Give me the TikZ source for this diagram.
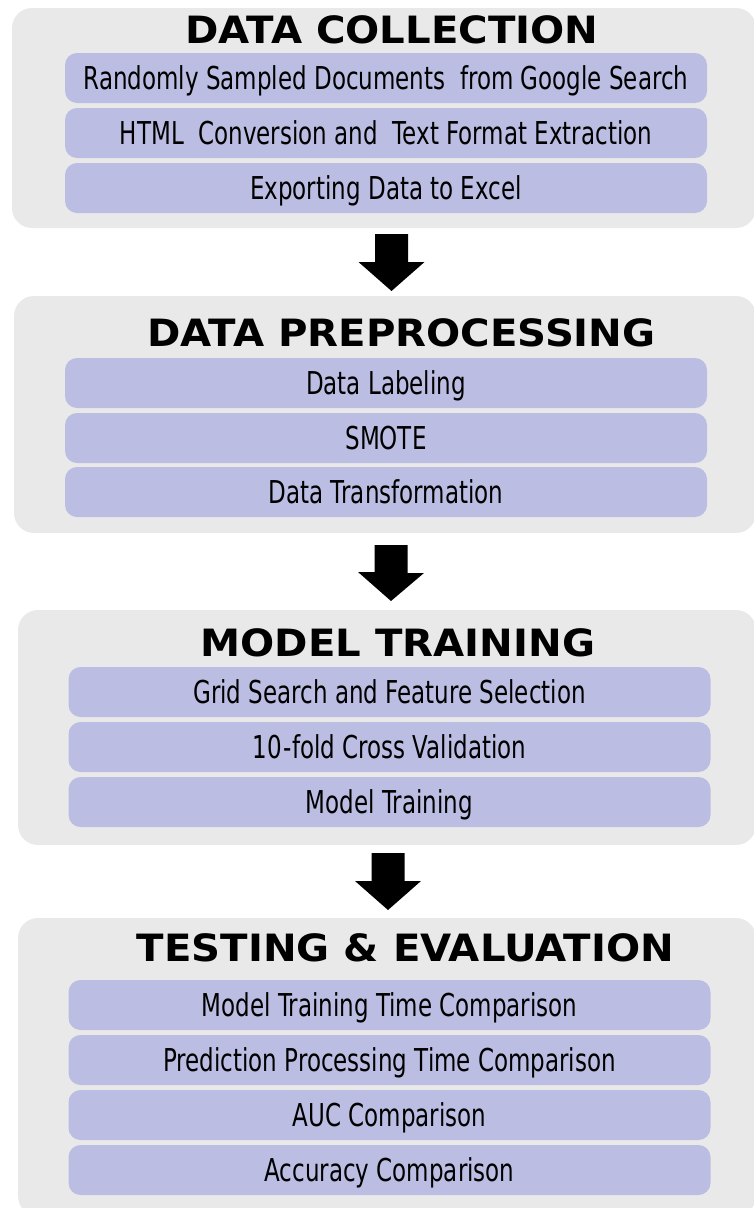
\documentclass[tikz,border=0pt]{standalone}
\usepackage{fontspec}
\newfontfamily\bodyfont{DejaVu Sans}[FakeStretch=0.73]
\newfontfamily\headfont{DejaVu Sans}[FakeStretch=1.07]
\definecolor{groupgray}{HTML}{E9E9E9}
\definecolor{lavender}{HTML}{BBBEE2}
\tikzset{
  groupbox/.style={fill=groupgray, rounded corners=20pt},
  itembox/.style={fill=lavender, rounded corners=12pt, minimum width=642pt,
    minimum height=50pt, inner sep=0pt, text height=23pt, text depth=0pt,
    font=\bodyfont\fontsize{31.5}{36}\selectfont},
  heading/.style={inner sep=0pt, text height=27pt, text depth=0pt,
    font=\headfont\bfseries\fontsize{37.6}{42}\selectfont},
  blockarrow/.style={fill=black}
}
\newcommand{\myblockarrow}[2]{%
  \fill[blockarrow] (#1) ++(-16.5,0) -- ++(33,0) -- ++(0,28) -- ++(16.5,0)
     -- (#2) -- ++(-33,-29) -- ++(16.5,0) -- cycle;}
\begin{document}
\begin{tikzpicture}[x=1pt,y=-1pt]
\useasboundingbox (0,0) rectangle (754,1208);
% groups
\fill[groupbox] (12,8) rectangle (756,228);
\fill[groupbox] (14,296) rectangle (756,533);
\fill[groupbox] (18,610) rectangle (756,845);
\fill[groupbox] (18,918) rectangle (756,1216);
% headings
\node[heading] (h1) at (392,30) {DATA COLLECTION};
\node[heading] (h2) at (401.5,332.5) {DATA PREPROCESSING};
\node[heading] (h3) at (398,643) {MODEL TRAINING};
\node[heading] (h4) at (405.5,948) {TESTING \& EVALUATION};
% group 1 items
\node[itembox] (a1) at (386,78) {Randomly Sampled Documents~ from Google Search};
\node[itembox] (a2) at (386,133) {HTML~ Conversion and~ Text Format Extraction};
\node[itembox] (a3) at (386,188) {Exporting Data to Excel};
% group 2 items
\node[itembox] (b1) at (386,383) {Data Labeling};
\node[itembox] (b2) at (386,438) {SMOTE};
\node[itembox] (b3) at (386,492) {Data Transformation};
% group 3 items
\node[itembox] (c1) at (389.5,692) {Grid Search and Feature Selection};
\node[itembox] (c2) at (389.5,747) {10\hspace{2pt}-fold Cross Validation};
\node[itembox] (c3) at (389.5,802) {Model Training};
% group 4 items
\node[itembox] (d1) at (389.5,1005) {Model Training Time Comparison};
\node[itembox] (d2) at (389.5,1060) {Prediction Processing Time Comparison};
\node[itembox] (d3) at (389.5,1115) {AUC Comparison};
\node[itembox] (d4) at (389.5,1170) {Accuracy Comparison};
% arrows
\coordinate (t1) at (391.5,234); \coordinate (p1) at (391.5,291);
\coordinate (t2) at (391,545);   \coordinate (p2) at (391,601);
\coordinate (t3) at (388,853);   \coordinate (p3) at (388,910);
\myblockarrow{t1}{p1}
\myblockarrow{t2}{p2}
\myblockarrow{t3}{p3}
\end{tikzpicture}
\end{document}
